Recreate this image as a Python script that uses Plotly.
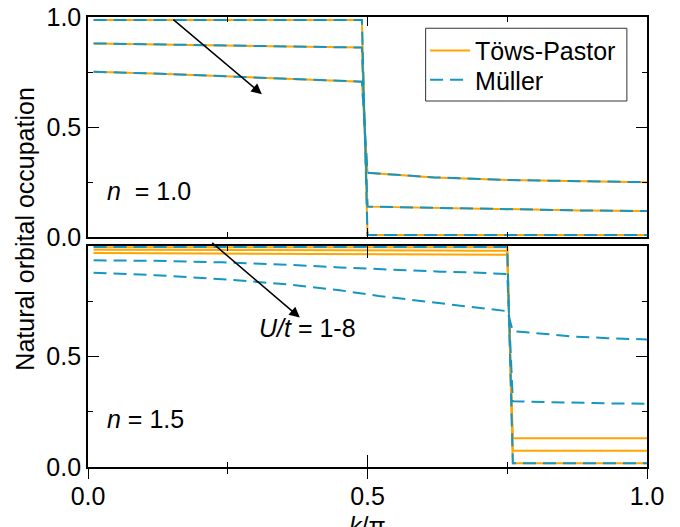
import plotly.graph_objects as go

# ---------------- data ----------------
# n = 1.0 panel : k/pi grid before and after the Fermi jump
k_n10_upper = [0.01, 0.13, 0.28, 0.40, 0.49]
k_n10_lower = [0.50, 0.62, 0.75, 0.88, 1.00]

# Töws-Pastor, n = 1.0 (three U/t values)
tp_n10_u1_upper = [0.986, 0.986, 0.986, 0.986, 0.986]
tp_n10_u1_lower = [0.009, 0.009, 0.009, 0.009, 0.009]
tp_n10_u2_upper = [0.880, 0.876, 0.870, 0.866, 0.861]
tp_n10_u2_lower = [0.138, 0.132, 0.126, 0.121, 0.118]
tp_n10_u3_upper = [0.751, 0.742, 0.727, 0.716, 0.706]
tp_n10_u3_lower = [0.292, 0.271, 0.259, 0.253, 0.249]

# Müller, n = 1.0 (coincides with Töws-Pastor)
mu_n10_u1_upper = [0.986, 0.986, 0.986, 0.986, 0.986]
mu_n10_u1_lower = [0.009, 0.009, 0.009, 0.009, 0.009]
mu_n10_u2_upper = [0.880, 0.876, 0.870, 0.866, 0.861]
mu_n10_u2_lower = [0.138, 0.132, 0.126, 0.121, 0.118]
mu_n10_u3_upper = [0.751, 0.742, 0.727, 0.716, 0.706]
mu_n10_u3_lower = [0.292, 0.271, 0.259, 0.253, 0.249]

# n = 1.5 panel
k_n15_upper = [0.01, 0.12, 0.24, 0.36, 0.45, 0.52, 0.57, 0.63, 0.69, 0.75]
k_n15_lower = [0.76, 0.82, 0.87, 0.93, 1.00]

tp_n15_u1_upper = [0.994, 0.994, 0.994, 0.994, 0.994, 0.994, 0.994, 0.994, 0.994, 0.994]
tp_n15_u1_lower = [0.017, 0.017, 0.017, 0.017, 0.017]
tp_n15_u2_upper = [0.983, 0.983, 0.982, 0.982, 0.981, 0.981, 0.980, 0.980, 0.979, 0.979]
tp_n15_u2_lower = [0.073, 0.073, 0.073, 0.073, 0.073]
tp_n15_u3_upper = [0.968, 0.967, 0.966, 0.965, 0.964, 0.963, 0.962, 0.961, 0.960, 0.960]
tp_n15_u3_lower = [0.130, 0.130, 0.130, 0.130, 0.130]

mu_n15_u1_upper = [0.995, 0.995, 0.995, 0.995, 0.995, 0.995, 0.995, 0.995, 0.995, 0.995]
mu_n15_u1_lower = [0.017, 0.017, 0.017, 0.017, 0.017]
mu_n15_u2_upper = [0.935, 0.933, 0.926, 0.915, 0.903, 0.895, 0.888, 0.884, 0.880, 0.873]
mu_n15_u2_lower = [0.297, 0.293, 0.290, 0.288, 0.286]
mu_n15_u3_upper = [0.879, 0.868, 0.850, 0.826, 0.800, 0.774, 0.759, 0.740, 0.721, 0.705]
mu_n15_u3_lower = [0.615, 0.600, 0.590, 0.583, 0.577]

y_tick_vals_top = [0.0, 0.5, 1.0]
y_tick_vals_bottom = [0.0, 0.5]
x_tick_vals = [0.0, 0.5, 1.0]

# ---------------- styling ----------------
ORANGE = "#FFA500"
BLUE = "#1496C3"
FONT = "Liberation Sans, Arial, sans-serif"
FS = 25

fig = go.Figure()

panels = [
    ("x", "y", k_n10_upper, k_n10_lower,
     [(tp_n10_u1_upper, tp_n10_u1_lower), (tp_n10_u2_upper, tp_n10_u2_lower), (tp_n10_u3_upper, tp_n10_u3_lower)],
     [(mu_n10_u1_upper, mu_n10_u1_lower), (mu_n10_u2_upper, mu_n10_u2_lower), (mu_n10_u3_upper, mu_n10_u3_lower)]),
    ("x2", "y2", k_n15_upper, k_n15_lower,
     [(tp_n15_u1_upper, tp_n15_u1_lower), (tp_n15_u2_upper, tp_n15_u2_lower), (tp_n15_u3_upper, tp_n15_u3_lower)],
     [(mu_n15_u1_upper, mu_n15_u1_lower), (mu_n15_u2_upper, mu_n15_u2_lower), (mu_n15_u3_upper, mu_n15_u3_lower)]),
]

first_tp = True
first_mu = True
for xa, ya, ku, kl, tps, mus in panels:
    for up, lo in tps:
        fig.add_trace(go.Scatter(x=ku + kl, y=up + lo, xaxis=xa, yaxis=ya, mode="lines",
                                 line=dict(color=ORANGE, width=2), name="Töws-Pastor",
                                 legend="legend", legendgroup="tp", showlegend=first_tp,
                                 hoverinfo="skip"))
        first_tp = False
for xa, ya, ku, kl, tps, mus in panels:
    for up, lo in mus:
        fig.add_trace(go.Scatter(x=ku + kl, y=up + lo, xaxis=xa, yaxis=ya, mode="lines",
                                 line=dict(color=BLUE, width=2, dash="13px,7px"), name="Müller",
                                 legend="legend2", legendgroup="mu", showlegend=first_mu,
                                 hoverinfo="skip"))
        first_mu = False

# empty trace to register the overlay axis (crossing ticks on bottom axis)
fig.add_trace(go.Scatter(x=[None], y=[None], xaxis="x3", yaxis="y2", showlegend=False, hoverinfo="skip"))

common = dict(range=[0, 1], showgrid=False, zeroline=False, showline=True, automargin=False,
              linecolor="black", tickcolor="black", tickwidth=1, ticklabeloverflow="allow")

leg_common = dict(xanchor="left", yanchor="middle", bgcolor="rgba(0,0,0,0)", borderwidth=0,
                  font=dict(size=FS), itemwidth=40)

fig.update_layout(
    width=672, height=519,
    margin=dict(l=80, r=33, t=9, b=60, autoexpand=False),
    paper_bgcolor="white", plot_bgcolor="white",
    font=dict(family=FONT, size=FS, color="black"),
    showlegend=True,
    legend=dict(leg_common, x=0.603, y=0.9251),
    legend2=dict(leg_common, x=0.603, y=0.860),
    xaxis=dict(common, domain=[0, 1], anchor="y", ticks="inside", ticklen=9,
               tickvals=x_tick_vals, mirror="ticks", linewidth=1.5, showticklabels=False,
               minor=dict(dtick=0.25, tick0=0, ticks="inside", ticklen=5, tickcolor="black")),
    xaxis2=dict(common, domain=[0, 1], anchor="y2", ticks="outside", ticklen=10,
                tickvals=x_tick_vals, tickformat=".1f", linewidth=2.2, mirror=False,
                ticklabelstandoff=-4,
                minor=dict(dtick=0.25, tick0=0, ticks="outside", ticklen=5, tickcolor="black")),
    xaxis3=dict(common, overlaying="x2", anchor="y2", ticks="inside", ticklen=12,
                tickvals=x_tick_vals, mirror="ticks", linewidth=1.5, showticklabels=False,
                minor=dict(dtick=0.25, tick0=0, ticks="inside", ticklen=5, tickcolor="black")),
    yaxis=dict(common, domain=[0.5111, 1], anchor="x", ticks="inside", ticklen=11,
               tickvals=y_tick_vals_top, tickformat=".1f", mirror="ticks", linewidth=1.5,
               minor=dict(dtick=0.25, tick0=0, ticks="inside", ticklen=5, tickcolor="black")),
    yaxis2=dict(common, domain=[0, 0.4911], anchor="x2", ticks="inside", ticklen=11,
                tickvals=y_tick_vals_bottom, tickformat=".1f", mirror="ticks", linewidth=1.8,
                minor=dict(dtick=0.25, tick0=0, ticks="inside", ticklen=5, tickcolor="black")),
    shapes=[dict(type="rect", xref="paper", yref="paper", x0=0.604, x1=0.964, y0=0.8133, y1=0.975,
                 line=dict(color="#333333", width=1), fillcolor="white", layer="above")],
)

ann = [
    # arrows
    dict(x=0.311, y=0.649, ax=0.150, ay=0.994, xref="x", yref="y", axref="x", ayref="y",
         text="", showarrow=True, arrowhead=2, arrowsize=1.4, arrowwidth=1.5, arrowcolor="black"),
    dict(x=0.379, y=0.676, ax=0.2195, ay=1.02, xref="x2", yref="y2", axref="x2", ayref="y2",
         text="", showarrow=True, arrowhead=2, arrowsize=1.4, arrowwidth=1.5, arrowcolor="black"),
    # labels
    dict(x=0.392, y=0.627, xref="x2", yref="y2", text="<i>U/t</i> = 1-8", showarrow=False,
         xanchor="center", yanchor="middle"),
    dict(x=0.031, y=0.209, xref="x", yref="y", text="<i>n</i>\u00a0 = 1.0", showarrow=False,
         xanchor="left", yanchor="middle"),
    dict(x=0.031, y=0.216, xref="x2", yref="y2", text="<i>n</i> = 1.5", showarrow=False,
         xanchor="left", yanchor="middle"),
    # axis titles
    dict(x=-0.1132, y=0.529, xref="paper", yref="paper", text="Natural orbital occupation",
         textangle=-90, showarrow=False, xanchor="center", yanchor="middle"),
    dict(x=0.5, y=-0.0956, xref="paper", yref="paper", text="<i>k</i>/π",
         showarrow=False, xanchor="center", yanchor="top"),
]
fig.update_layout(annotations=ann)

fig.write_html("out.html")
